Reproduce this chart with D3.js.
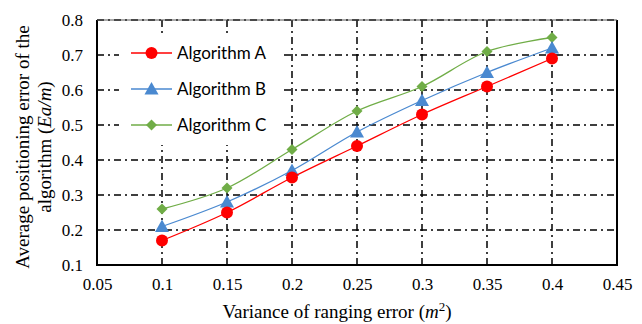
<!DOCTYPE html>
<html>
<head>
<meta charset="utf-8">
<script src="https://cdn.jsdelivr.net/npm/d3@7"></script>
<style>
  body { margin: 0; background: #fff; }
</style>
</head>
<body>
<script>
const xValues = [0.1, 0.15, 0.2, 0.25, 0.3, 0.35, 0.4]
const algA = [0.17, 0.25, 0.35, 0.44, 0.53, 0.61, 0.69]
const algB = [0.21, 0.28, 0.37, 0.48, 0.57, 0.65, 0.72]
const algC = [0.26, 0.32, 0.43, 0.54, 0.61, 0.71, 0.75]
const seriesNames = ['Algorithm A', 'Algorithm B', 'Algorithm C']
const xTicks = [0.05, 0.1, 0.15, 0.2, 0.25, 0.3, 0.35, 0.4, 0.45]
const yTicks = [0.1, 0.2, 0.3, 0.4, 0.5, 0.6, 0.7, 0.8]

const width = 642, height = 324
const margin = { left: 97, right: 25, top: 20, bottom: 59 }

const svg = d3.select('body')
  .append('svg')
  .attr('width', width)
  .attr('height', height)

const x = d3.scaleLinear().domain([0.05, 0.45]).range([margin.left, width - margin.right])
const y = d3.scaleLinear().domain([0.1, 0.8]).range([height - margin.bottom, margin.top])

const series = [
  { name: seriesNames[0], values: algA, color: '#ff0000', marker: 'circle' },
  { name: seriesNames[1], values: algB, color: '#4a89d0', marker: 'triangle' },
  { name: seriesNames[2], values: algC, color: '#70ad47', marker: 'diamond' }
]

// grid lines (dash-dot)
const dash = '7,4,2,4'
svg.append('g')
  .selectAll('line')
  .data(yTicks.slice(1))
  .join('line')
  .attr('x1', x(0.05)).attr('x2', x(0.45))
  .attr('y1', d => y(d)).attr('y2', d => y(d))
  .style('stroke', '#000')
  .style('stroke-width', 1.5)
  .style('stroke-dasharray', dash)

svg.append('g')
  .selectAll('line')
  .data(xValues)
  .join('line')
  .attr('x1', d => x(d)).attr('x2', d => x(d))
  .attr('y1', y(0.1)).attr('y2', y(0.8))
  .style('stroke', '#000')
  .style('stroke-width', 1.5)
  .style('stroke-dasharray', dash)

// plot border
svg.append('path')
  .attr('d', `M${x(0.45)},${y(0.8)}V${y(0.1)}H${x(0.05)}V${y(0.8)}`)
  .style('fill', 'none')
  .style('stroke', '#000')
  .style('stroke-width', 2)
svg.append('line')
  .attr('x1', x(0.05)).attr('x2', x(0.45))
  .attr('y1', y(0.8)).attr('y2', y(0.8))
  .style('stroke', '#555')
  .style('stroke-width', 1)

// axes
const serif = '"Liberation Serif", "Times New Roman", serif'
const xAxis = d3.axisBottom(x).tickValues(xTicks).tickSize(0).tickPadding(13)
  .tickFormat(d => d3.format('')(+d.toFixed(2)))
const yAxis = d3.axisLeft(y).tickValues(yTicks).tickSize(0).tickPadding(14)
  .tickFormat(d => d3.format('.1f')(d))

const gx = svg.append('g').attr('transform', `translate(0,${y(0.1)})`).call(xAxis)
const gy = svg.append('g').attr('transform', `translate(${x(0.05)},0)`).call(yAxis)
for (const g of [gx, gy]) {
  g.select('.domain').remove()
  g.selectAll('text')
    .style('font-family', serif)
    .style('font-size', '17px')
    .style('fill', '#000')
}

// legend background
const lg = svg.append('g')
lg.append('rect')
  .attr('x', 119).attr('y', 35)
  .attr('width', 162).attr('height', 110)
  .style('fill', '#fff')

// lines
const line = d3.line()
  .x((d, i) => x(xValues[i]))
  .y(d => y(d))
  .curve(d3.curveCatmullRom.alpha(0.5))

function drawMarker(g, type, cx, cy, color) {
  if (type === 'circle') {
    g.append('circle').attr('cx', cx).attr('cy', cy).attr('r', 6).style('fill', color)
  } else if (type === 'triangle') {
    g.append('path')
      .attr('d', `M${cx},${cy - 7}L${cx + 7},${cy + 5.5}L${cx - 7},${cy + 5.5}Z`)
      .style('fill', color)
  } else {
    g.append('path')
      .attr('d', `M${cx},${cy - 5.5}L${cx + 5.5},${cy}L${cx},${cy + 5.5}L${cx - 5.5},${cy}Z`)
      .style('fill', color)
  }
}

series.slice().reverse().forEach(s => {
  svg.append('path')
    .datum(s.values)
    .attr('d', line)
    .style('fill', 'none')
    .style('stroke', s.color)
    .style('stroke-width', 1.3)
  const mg = svg.append('g')
  s.values.forEach((v, i) => drawMarker(mg, s.marker, x(xValues[i]), y(v), s.color))
})

// legend entries
series.forEach((s, i) => {
  const ly = 53 + i * 36
  lg.append('line')
    .attr('x1', 131).attr('x2', 172)
    .attr('y1', ly).attr('y2', ly)
    .style('stroke', s.color)
    .style('stroke-width', 1.3)
  drawMarker(lg, s.marker, 151.5, ly, s.color)
  lg.append('text')
    .attr('x', 177).attr('y', ly + 6)
    .text(s.name)
    .style('font-family', 'Lato, "Open Sans", sans-serif')
    .style('font-size', '17px')
    .style('fill', '#000')
})

// axis titles
const xt = svg.append('text')
  .attr('x', 337).attr('y', 318)
  .attr('text-anchor', 'middle')
  .style('font-family', serif)
  .style('font-size', '19px')
xt.append('tspan').text('Variance of ranging error (')
xt.append('tspan').text('m').style('font-style', 'italic')
xt.append('tspan').text('2').attr('dy', -7).style('font-size', '13px')
xt.append('tspan').text(')').attr('dy', 7)

const yt = svg.append('text')
  .attr('transform', 'translate(0,147) rotate(-90)')
  .attr('text-anchor', 'middle')
  .style('font-family', serif)
  .style('font-size', '19px')
yt.append('tspan').attr('x', 0).attr('y', 29).text('Average positioning error of the')
const t2 = yt.append('tspan').attr('x', 0).attr('y', 51)
t2.append('tspan').text('algorithm (')
t2.append('tspan').text('Ea/m').style('font-style', 'italic')
t2.append('tspan').text(')')
</script>
</body>
</html>
